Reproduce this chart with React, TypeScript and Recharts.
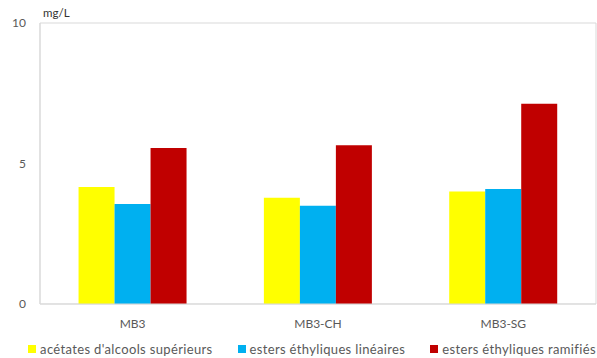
import { BarChart, Bar, XAxis, YAxis, Legend, ReferenceArea } from "recharts";

const samples = ["MB3", "MB3-CH", "MB3-SG"];
const acetates = [4.16, 3.78, 4.0];
const linearEsters = [3.56, 3.5, 4.09];
const branchedEsters = [5.55, 5.65, 7.13];
const yTicks = [0, 5, 10];

const series = [
  { key: "acetates", name: "acétates d'alcools supérieurs", color: "#ffff00" },
  { key: "linear", name: "esters éthyliques linéaires", color: "#00b0f0" },
  { key: "branched", name: "esters éthyliques ramifiés", color: "#c00000" },
];

const data = samples.map((s, i) => ({
  name: s,
  acetates: acetates[i],
  linear: linearEsters[i],
  branched: branchedEsters[i],
}));

const FONT = "Lato, 'Open Sans', sans-serif";
const TEXT = "#595959";
const BORDER = "#d9d9d9";

function LegendRow(props: any) {
  const items = props.payload || [];
  return (
    <div
      style={{
        display: "flex",
        justifyContent: "center",
        gap: 25,
        paddingTop: 11,
        paddingLeft: 28,
        fontFamily: FONT,
        fontSize: 13,
        letterSpacing: 0.35,
        color: TEXT,
        height: 19,
      }}
    >
      {items.map((it: any) => (
        <div key={it.value} style={{ display: "flex", alignItems: "center", whiteSpace: "nowrap" }}>
          <span style={{ width: 8, height: 8, background: it.color, marginRight: 4, display: "inline-block" }} />
          <span>{it.value}</span>
        </div>
      ))}
    </div>
  );
}

export default function App() {
  return (
    <div style={{ position: "absolute", left: 0, top: 0, background: "#fff" }}>
      <BarChart
        width={597}
        height={358}
        data={data}
        margin={{ top: 23, right: 1, left: 0, bottom: 0 }}
        barCategoryGap="20.8%"
        barGap={0}
      >
        <ReferenceArea y1={0} y2={10} fill="none" stroke={BORDER} strokeWidth={1} ifOverflow="extendDomain" />
        <XAxis
          dataKey="name"
          axisLine={{ stroke: BORDER }}
          tickLine={false}
          height={24}
          tick={{ fill: TEXT, fontSize: 12, fontFamily: FONT }}
          tickMargin={9}
        />
        <YAxis
          width={40}
          domain={[0, 10]}
          ticks={yTicks}
          axisLine={{ stroke: BORDER }}
          tickLine={false}
          tick={{ fill: TEXT, fontSize: 12, fontFamily: FONT }}
          tickMargin={8}
          label={{
            content: (p: any) => (
              <text
                x={p.viewBox.x + p.viewBox.width + 3}
                y={p.viewBox.y - 6}
                fill="#333"
                fontSize={11.5}
                fontFamily={FONT}
              >
                mg/L
              </text>
            ),
          }}
        />
        <Legend verticalAlign="bottom" content={LegendRow} />
        {series.map((s) => (
          <Bar key={s.key} dataKey={s.key} name={s.name} fill={s.color} isAnimationActive={false} />
        ))}
      </BarChart>
    </div>
  );
}
